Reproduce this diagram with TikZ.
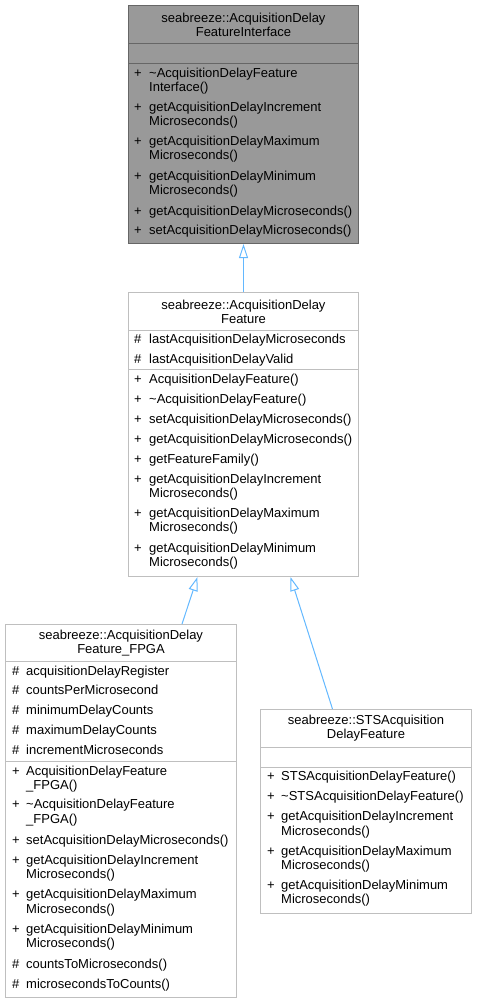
\documentclass[tikz,border=0pt]{standalone}
\usepackage{fontspec}
\setmainfont{Liberation Sans}
\usetikzlibrary{arrows.meta}

\definecolor{ifacefill}{HTML}{999999}
\definecolor{ifaceline}{HTML}{666666}
\definecolor{boxline}{HTML}{BFBFBF}
\definecolor{linkblue}{HTML}{63B8FF}
\newcommand\classfont{\fontsize{13bp}{14bp}\selectfont}

\begin{document}
\begin{tikzpicture}[x=1bp, y=-1bp,
    ifacebox/.style={draw=ifaceline, line width=1bp, fill=ifacefill, inner sep=0pt, minimum width=230bp},
    classbox/.style={draw=boxline, line width=1bp, fill=white, inner sep=0pt},
    title/.style={align=center, font=\classfont},
    member/.style={anchor=west, inner sep=0pt, text height=9bp, text depth=0pt, font=\classfont},
    inherit/.style={draw=linkblue, line width=1bp, -{Triangle[open, length=14bp, width=9bp]}}]
    \useasboundingbox (0,0) rectangle (477,1003);

    % Interface class
    \node[ifacebox, title, minimum height=38bp] (iface-title) at (243.5,24.5) {seabreeze::AcquisitionDelay\\FeatureInterface};
    \node[ifacebox, minimum height=20bp] (iface-attr) at (243.5,53.5) {};
    \node[ifacebox, minimum height=180bp] (iface-ops) at (243.5,153.5) {};
    \foreach \y/\s/\t [count=\i] in {73/+/\textasciitilde AcquisitionDelayFeature, 87//Interface(),
        107/+/getAcquisitionDelayIncrement, 121//Microseconds(),
        141/+/getAcquisitionDelayMaximum, 155//Microseconds(),
        176/+/getAcquisitionDelayMinimum, 190//Microseconds(),
        211/+/getAcquisitionDelayMicroseconds(), 230/+/setAcquisitionDelayMicroseconds()} {
        \node[member] (iface-s\i) at (134,\y) {\s};
        \node[member] (iface-t\i) at (149,\y) {\t};
    }

    % Base feature class
    \node[classbox, title, minimum width=230bp, minimum height=38bp] (feat-title) at (243.5,311.5) {seabreeze::AcquisitionDelay\\Feature};
    \node[classbox, minimum width=230bp, minimum height=39bp] (feat-attr) at (243.5,350) {};
    \node[classbox, minimum width=230bp, minimum height=207bp] (feat-ops) at (243.5,473) {};
    \foreach \y/\s/\t [count=\i] in {339/\#/lastAcquisitionDelayMicroseconds, 359/\#/lastAcquisitionDelayValid,
        379/+/AcquisitionDelayFeature(), 399/+/\textasciitilde AcquisitionDelayFeature(),
        419/+/setAcquisitionDelayMicroseconds(), 439/+/getAcquisitionDelayMicroseconds(),
        459/+/getFeatureFamily(),
        479/+/getAcquisitionDelayIncrement, 493//Microseconds(),
        513/+/getAcquisitionDelayMaximum, 527//Microseconds(),
        548/+/getAcquisitionDelayMinimum, 562//Microseconds()} {
        \node[member] (feat-s\i) at (134,\y) {\s};
        \node[member] (feat-t\i) at (149,\y) {\t};
    }

    % FPGA implementation
    \node[classbox, title, minimum width=231bp, minimum height=37bp] (fpga-title) at (121,643) {seabreeze::AcquisitionDelay\\Feature\_FPGA};
    \node[classbox, minimum width=231bp, minimum height=100bp] (fpga-attr) at (121,711.5) {};
    \node[classbox, minimum width=231bp, minimum height=236bp] (fpga-ops) at (121,879.5) {};
    \foreach \y/\s/\t [count=\i] in {671/\#/acquisitionDelayRegister, 690/\#/countsPerMicrosecond,
        710/\#/minimumDelayCounts, 730/\#/maximumDelayCounts, 750/\#/incrementMicroseconds,
        771/+/AcquisitionDelayFeature, 785//\_FPGA(),
        804/+/\textasciitilde AcquisitionDelayFeature, 819//\_FPGA(),
        840/+/setAcquisitionDelayMicroseconds(),
        860/+/getAcquisitionDelayIncrement, 874//Microseconds(),
        894/+/getAcquisitionDelayMaximum, 909//Microseconds(),
        929/+/getAcquisitionDelayMinimum, 943//Microseconds(),
        964/\#/countsToMicroseconds(), 984/\#/microsecondsToCounts()} {
        \node[member] (fpga-s\i) at (12,\y) {\s};
        \node[member] (fpga-t\i) at (26,\y) {\t};
    }

    % STS implementation
    \node[classbox, title, minimum width=211bp, minimum height=38bp] (sts-title) at (366,728.5) {seabreeze::STSAcquisition\\DelayFeature};
    \node[classbox, minimum width=211bp, minimum height=20bp] (sts-attr) at (366,757.5) {};
    \node[classbox, minimum width=211bp, minimum height=146bp] (sts-ops) at (366,840.5) {};
    \foreach \y/\s/\t [count=\i] in {776/+/STSAcquisitionDelayFeature(), 796/+/\textasciitilde STSAcquisitionDelayFeature(),
        816/+/getAcquisitionDelayIncrement, 831//Microseconds(),
        851/+/getAcquisitionDelayMaximum, 865//Microseconds(),
        885/+/getAcquisitionDelayMinimum, 899//Microseconds()} {
        \node[member] (sts-s\i) at (267,\y) {\s};
        \node[member] (sts-t\i) at (281,\y) {\t};
    }

    % Inheritance arrows
    \draw[inherit] (feat-title.north) -- (iface-ops.south);
    \draw[inherit] ([xshift=61bp]fpga-title.north) -- ([xshift=-46bp]feat-ops.south);
    \draw[inherit] ([xshift=-33.5bp]sts-title.north) -- ([xshift=47bp]feat-ops.south);
\end{tikzpicture}
\end{document}
